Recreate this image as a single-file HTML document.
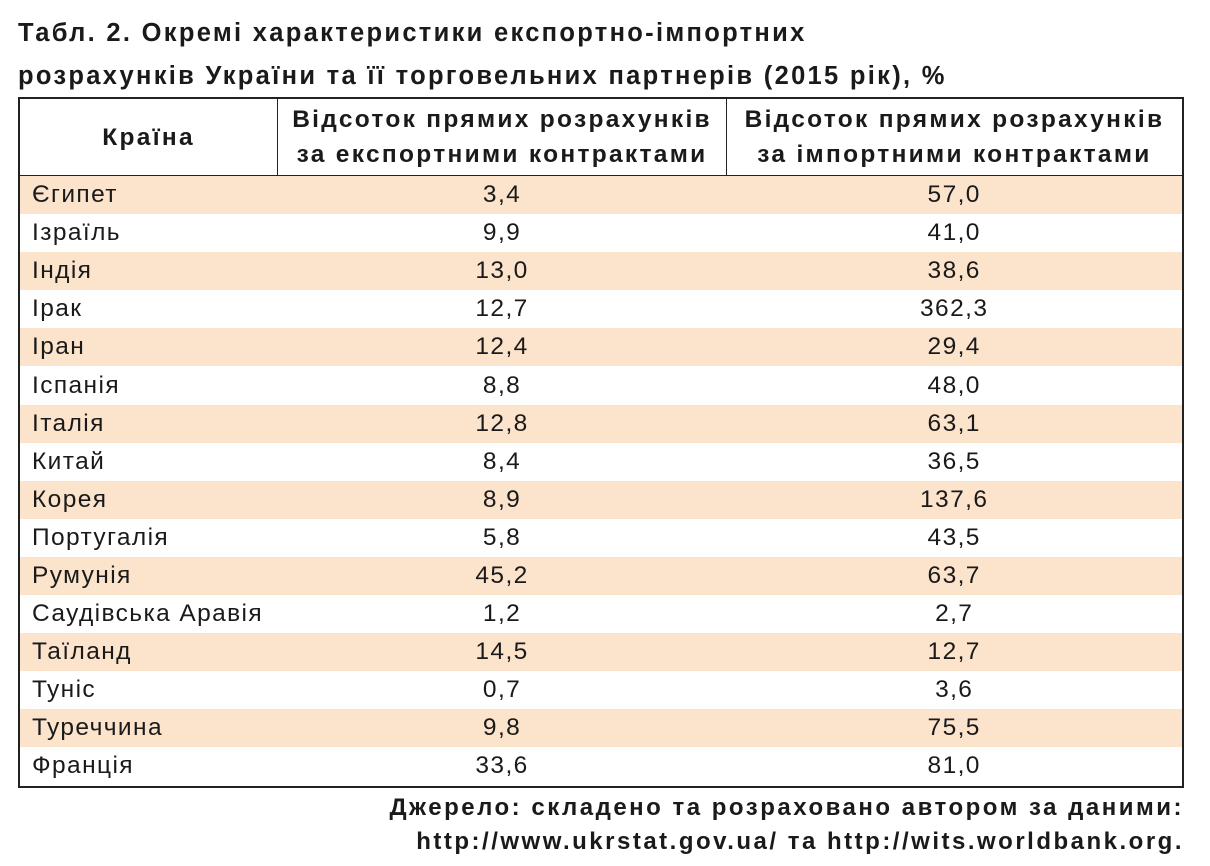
<!DOCTYPE html>
<html><head><meta charset="utf-8">
<style>
body{margin:0;width:1210px;height:866px;background:#fff;font-family:"Liberation Sans",sans-serif;color:#1a1a1a;position:relative;overflow:hidden}
.title{position:absolute;left:18px;top:12px;font-weight:bold;font-size:25.5px;line-height:43px;letter-spacing:2.3px;white-space:nowrap}
table{position:absolute;left:18px;top:97px;width:1166px;border-collapse:collapse;border:2px solid #222}
th{font-weight:bold;font-size:24.5px;line-height:35px;height:76px;border:1.5px solid #222;padding:0;text-align:center;letter-spacing:2.3px;white-space:nowrap}
td{font-size:24.5px;height:38.1px;padding:0;line-height:38px;letter-spacing:1.4px}
td.c{padding-left:12px}
td.n{text-align:center}
tr.s td{background:#fbe3cc}
.src{position:absolute;right:26px;top:791px;text-align:right;font-weight:bold;font-size:24px;line-height:34px;letter-spacing:2.5px;white-space:nowrap}
</style></head><body>
<div class="title">Табл. 2. Окремі характеристики експортно-імпортних<br>розрахунків України та її торговельних партнерів (2015 рік), %</div>
<table>
<colgroup><col style="width:260px"><col style="width:449px"><col style="width:457px"></colgroup>
<tr><th>Країна</th><th>Відсоток прямих розрахунків<br>за експортними контрактами</th><th>Відсоток прямих розрахунків<br>за імпортними контрактами</th></tr>
<tr class="s"><td class="c">Єгипет</td><td class="n">3,4</td><td class="n">57,0</td></tr>
<tr><td class="c">Ізраїль</td><td class="n">9,9</td><td class="n">41,0</td></tr>
<tr class="s"><td class="c">Індія</td><td class="n">13,0</td><td class="n">38,6</td></tr>
<tr><td class="c">Ірак</td><td class="n">12,7</td><td class="n">362,3</td></tr>
<tr class="s"><td class="c">Іран</td><td class="n">12,4</td><td class="n">29,4</td></tr>
<tr><td class="c">Іспанія</td><td class="n">8,8</td><td class="n">48,0</td></tr>
<tr class="s"><td class="c">Італія</td><td class="n">12,8</td><td class="n">63,1</td></tr>
<tr><td class="c">Китай</td><td class="n">8,4</td><td class="n">36,5</td></tr>
<tr class="s"><td class="c">Корея</td><td class="n">8,9</td><td class="n">137,6</td></tr>
<tr><td class="c">Португалія</td><td class="n">5,8</td><td class="n">43,5</td></tr>
<tr class="s"><td class="c">Румунія</td><td class="n">45,2</td><td class="n">63,7</td></tr>
<tr><td class="c">Саудівська Аравія</td><td class="n">1,2</td><td class="n">2,7</td></tr>
<tr class="s"><td class="c">Таїланд</td><td class="n">14,5</td><td class="n">12,7</td></tr>
<tr><td class="c">Туніс</td><td class="n">0,7</td><td class="n">3,6</td></tr>
<tr class="s"><td class="c">Туреччина</td><td class="n">9,8</td><td class="n">75,5</td></tr>
<tr><td class="c">Франція</td><td class="n">33,6</td><td class="n">81,0</td></tr>
</table>
<div class="src">Джерело: складено та розраховано автором за даними:<br>http://www.ukrstat.gov.ua/ та http://wits.worldbank.org.</div>
</body></html>
